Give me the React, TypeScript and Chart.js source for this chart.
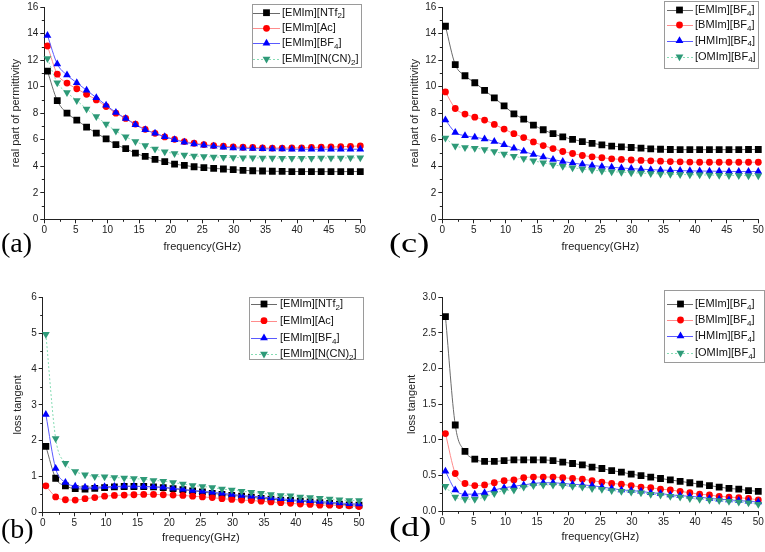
import React, { useEffect, useRef } from 'react';
import { Chart, registerables } from 'chart.js';
import { drawPoint } from 'chart.js/helpers';

Chart.register(...registerables);

const FONT = '"Liberation Sans", Arial, Helvetica, sans-serif';
Chart.defaults.font.family = FONT;

// ---------------- data ----------------
const freq = [0.5, 2.05, 3.59, 5.14, 6.69, 8.23, 9.78, 11.33, 12.88, 14.42, 15.97, 17.52, 19.06, 20.61, 22.16, 23.7, 25.25, 26.8, 28.34, 29.89, 31.44, 32.98, 34.53, 36.08, 37.63, 39.17, 40.72, 42.27, 43.81, 45.36, 46.91, 48.45, 50.0];

// (a) real part of permittivity, [EMIm] family
const permNTf2 = [11.17, 8.95, 8.0, 7.48, 6.95, 6.5, 6.06, 5.63, 5.33, 4.98, 4.74, 4.51, 4.34, 4.16, 4.06, 3.96, 3.89, 3.84, 3.79, 3.74, 3.69, 3.66, 3.64, 3.62, 3.61, 3.6, 3.6, 3.59, 3.59, 3.59, 3.59, 3.6, 3.6];
const permAc = [13.06, 10.94, 10.27, 9.84, 9.42, 9.0, 8.5, 8.0, 7.6, 7.18, 6.78, 6.48, 6.21, 6.03, 5.86, 5.73, 5.63, 5.56, 5.51, 5.46, 5.43, 5.41, 5.38, 5.37, 5.37, 5.38, 5.39, 5.41, 5.43, 5.45, 5.47, 5.5, 5.53];
const permBF4a = [13.86, 11.71, 10.87, 10.29, 9.72, 9.17, 8.6, 8.05, 7.6, 7.13, 6.75, 6.48, 6.23, 6.0, 5.81, 5.68, 5.58, 5.51, 5.43, 5.38, 5.36, 5.33, 5.31, 5.3, 5.29, 5.28, 5.28, 5.28, 5.28, 5.28, 5.28, 5.28, 5.28];
const permNCN = [12.11, 10.29, 9.55, 8.95, 8.32, 7.75, 7.18, 6.65, 6.23, 5.86, 5.56, 5.3, 5.1, 4.95, 4.85, 4.78, 4.73, 4.7, 4.68, 4.66, 4.64, 4.63, 4.62, 4.62, 4.61, 4.61, 4.61, 4.61, 4.62, 4.62, 4.62, 4.63, 4.63];

// (c) real part of permittivity, [BF4] family
const permEMIm = [14.55, 11.66, 10.82, 10.29, 9.72, 9.15, 8.55, 7.95, 7.55, 7.1, 6.75, 6.45, 6.21, 6.03, 5.86, 5.73, 5.61, 5.51, 5.46, 5.41, 5.36, 5.31, 5.28, 5.26, 5.25, 5.25, 5.25, 5.25, 5.25, 5.25, 5.25, 5.26, 5.26];
const permBMIm = [9.6, 8.35, 7.93, 7.7, 7.48, 7.15, 6.8, 6.45, 6.16, 5.83, 5.56, 5.33, 5.11, 4.96, 4.81, 4.71, 4.64, 4.56, 4.51, 4.47, 4.44, 4.41, 4.38, 4.35, 4.33, 4.31, 4.3, 4.3, 4.3, 4.3, 4.3, 4.3, 4.3];
const permHMIm = [7.48, 6.55, 6.3, 6.18, 6.06, 5.86, 5.61, 5.36, 5.13, 4.88, 4.69, 4.51, 4.36, 4.24, 4.14, 4.06, 3.98, 3.92, 3.87, 3.82, 3.78, 3.74, 3.71, 3.69, 3.67, 3.65, 3.64, 3.63, 3.62, 3.61, 3.6, 3.6, 3.6];
const permOMIm = [6.13, 5.53, 5.41, 5.36, 5.26, 5.11, 4.93, 4.76, 4.59, 4.41, 4.26, 4.11, 3.99, 3.89, 3.79, 3.71, 3.64, 3.59, 3.55, 3.51, 3.48, 3.45, 3.42, 3.4, 3.38, 3.36, 3.35, 3.33, 3.32, 3.31, 3.3, 3.29, 3.28];

// (b) loss tangent, [EMIm] family
const tanNTf2 = [1.84, 0.95, 0.74, 0.66, 0.65, 0.67, 0.69, 0.71, 0.72, 0.72, 0.72, 0.71, 0.69, 0.66, 0.63, 0.6, 0.57, 0.53, 0.5, 0.47, 0.45, 0.42, 0.39, 0.37, 0.34, 0.33, 0.31, 0.29, 0.27, 0.25, 0.23, 0.21, 0.2];
const tanAc = [0.74, 0.43, 0.35, 0.34, 0.38, 0.41, 0.45, 0.47, 0.48, 0.49, 0.5, 0.5, 0.49, 0.48, 0.47, 0.45, 0.43, 0.41, 0.38, 0.36, 0.34, 0.33, 0.31, 0.29, 0.27, 0.25, 0.23, 0.22, 0.2, 0.2, 0.19, 0.18, 0.16];
const tanBF4a = [2.73, 1.22, 0.83, 0.73, 0.7, 0.7, 0.71, 0.72, 0.73, 0.73, 0.72, 0.71, 0.7, 0.67, 0.64, 0.61, 0.59, 0.56, 0.53, 0.5, 0.47, 0.45, 0.43, 0.4, 0.38, 0.35, 0.33, 0.32, 0.3, 0.28, 0.26, 0.24, 0.23];
const tanNCN = [4.97, 2.06, 1.37, 1.14, 1.05, 1.0, 0.99, 0.97, 0.96, 0.94, 0.92, 0.89, 0.87, 0.83, 0.79, 0.75, 0.72, 0.69, 0.65, 0.62, 0.59, 0.56, 0.53, 0.5, 0.47, 0.46, 0.43, 0.41, 0.39, 0.37, 0.35, 0.33, 0.33];

// (d) loss tangent, [BF4] family
const tanEMIm = [2.73, 1.21, 0.84, 0.73, 0.7, 0.7, 0.71, 0.72, 0.72, 0.72, 0.72, 0.71, 0.69, 0.67, 0.65, 0.62, 0.6, 0.57, 0.55, 0.52, 0.5, 0.48, 0.46, 0.44, 0.42, 0.4, 0.38, 0.36, 0.34, 0.32, 0.31, 0.29, 0.28];
const tanBMIm = [1.09, 0.53, 0.39, 0.36, 0.37, 0.4, 0.43, 0.44, 0.47, 0.48, 0.48, 0.48, 0.47, 0.46, 0.45, 0.43, 0.41, 0.39, 0.38, 0.36, 0.34, 0.33, 0.31, 0.3, 0.28, 0.26, 0.24, 0.23, 0.21, 0.2, 0.19, 0.18, 0.16];
const tanHMIm = [0.56, 0.3, 0.24, 0.24, 0.26, 0.3, 0.33, 0.35, 0.37, 0.39, 0.4, 0.4, 0.39, 0.38, 0.37, 0.36, 0.34, 0.32, 0.3, 0.29, 0.28, 0.26, 0.25, 0.23, 0.22, 0.21, 0.2, 0.18, 0.17, 0.16, 0.15, 0.14, 0.13];
const tanOMIm = [0.35, 0.2, 0.17, 0.17, 0.2, 0.25, 0.29, 0.3, 0.34, 0.36, 0.37, 0.37, 0.36, 0.35, 0.34, 0.32, 0.31, 0.29, 0.28, 0.27, 0.26, 0.24, 0.23, 0.21, 0.2, 0.18, 0.17, 0.16, 0.15, 0.14, 0.13, 0.12, 0.1];

const labelsEMIm = ['[EMIm][NTf₂]', '[EMIm][Ac]', '[EMIm][BF₄]', '[EMIm][N(CN)₂]'];
const labelsBF4 = ['[EMIm][BF₄]', '[BMIm][BF₄]', '[HMIm][BF₄]', '[OMIm][BF₄]'];
const panelLetters = ['(a)', '(b)', '(c)', '(d)'];
const xTitle = 'frequency(GHz)';
const yTitlePerm = 'real part of permittivity';
const yTitleTan = 'loss tangent';

// ---------------- styles ----------------
const STYLES = [
  { color: '#000000', line: '#6a6a6a', style: 'rect', rotation: 0, radius: 4.8, dash: [] as number[] },
  { color: '#ff0000', line: '#ff8c8c', style: 'circle', rotation: 0, radius: 3.4, dash: [] as number[] },
  { color: '#0000ff', line: '#5a5aff', style: 'triangle', rotation: 0, radius: 4.5, dash: [] as number[] },
  { color: '#2e9a78', line: '#86dcb4', style: 'triangle', rotation: 180, radius: 4.5, dash: [2, 2] },
];

const AXIS = '#222222';
const TEXT = '#222222';

type PanelCfg = {
  letter: string;
  left: number; top: number; width: number; height: number;
  area: { l: number; r: number; t: number; b: number };
  yMax: number; yStep: number; yMinor: number; decimals: number;
  yTitle: string; yTitlePad: number; xTitlePad: number;
  legend: { box: number[]; rows: number[]; line: number[]; mark: number; text: number };
  labels: string[];
  series: number[][];
  letterPos: { x: number; y: number; sx: number };
};

const PANELS: PanelCfg[] = [
  {
    letter: panelLetters[0], left: 0, top: 0, width: 383, height: 262,
    area: { l: 44.3, r: 360.3, t: 5.3, b: 219.3 },
    yMax: 16, yStep: 2, yMinor: 1, decimals: 0,
    yTitle: yTitlePerm, yTitlePad: 9, xTitlePad: 8,
    legend: { box: [252, 4, 361, 67], rows: [12.7, 28.3, 43.3, 59], line: [253, 280], mark: 266.5, text: 282 },
    labels: labelsEMIm, series: [permNTf2, permAc, permBF4a, permNCN],
    letterPos: { x: 1, y: 228, sx: 1 },
  },
  {
    letter: panelLetters[1], left: 0, top: 280, width: 383, height: 272,
    area: { l: 42.7, r: 359, t: 17.3, b: 232.3 },
    yMax: 6, yStep: 1, yMinor: 0.5, decimals: 0,
    yTitle: yTitleTan, yTitlePad: 11, xTitlePad: 7,
    legend: { box: [249, 17, 363, 79], rows: [24, 40.7, 58, 74], line: [251, 277], mark: 264, text: 280 },
    labels: labelsEMIm, series: [tanNTf2, tanAc, tanBF4a, tanNCN],
    letterPos: { x: 1, y: 514, sx: 1 },
  },
  {
    letter: panelLetters[2], left: 383, top: 0, width: 382, height: 262,
    area: { l: 59.3, r: 375.3, t: 5.3, b: 219.3 },
    yMax: 16, yStep: 2, yMinor: 1, decimals: 0,
    yTitle: yTitlePerm, yTitlePad: 25, xTitlePad: 8,
    legend: { box: [281, 1, 375, 68], rows: [10, 25, 40.7, 56.7], line: [284, 310], mark: 296.5, text: 312 },
    labels: labelsBF4, series: [permEMIm, permBMIm, permHMIm, permOMIm],
    letterPos: { x: 389, y: 228, sx: 1.3 },
  },
  {
    letter: panelLetters[3], left: 383, top: 280, width: 382, height: 272,
    area: { l: 59.3, r: 375.3, t: 17.3, b: 231.3 },
    yMax: 3, yStep: 0.5, yMinor: 0.25, decimals: 1,
    yTitle: yTitleTan, yTitlePad: 22, xTitlePad: 8,
    legend: { box: [281, 10, 381, 82], rows: [24, 40, 56, 73], line: [284, 310], mark: 297.5, text: 312 },
    labels: labelsBF4, series: [tanEMIm, tanBMIm, tanHMIm, tanOMIm],
    letterPos: { x: 389, y: 512, sx: 1.3 },
  },
];

const SUB: Record<string, string> = { '₂': '2', '₄': '4' };

function drawRichLabel(ctx: CanvasRenderingContext2D, text: string, x: number, y: number) {
  let cx = x;
  for (const ch of Array.from(text)) {
    if (SUB[ch]) {
      ctx.font = `8px ${FONT}`;
      ctx.fillText(SUB[ch], cx, y + 3.5);
      cx += ctx.measureText(SUB[ch]).width;
    } else {
      ctx.font = `11px ${FONT}`;
      ctx.fillText(ch, cx, y);
      cx += ctx.measureText(ch).width;
    }
  }
}

function Panel({ p }: { p: PanelCfg }) {
  const ref = useRef<HTMLCanvasElement>(null);

  useEffect(() => {
    const canvas = ref.current!;
    const deco = {
      id: 'deco' + p.letter,
      afterDraw(chart: any) {
        const ctx: CanvasRenderingContext2D = chart.ctx;
        const xs = chart.scales.x;
        const ys = chart.scales.y;
        const ca = chart.chartArea;
        ctx.save();
        // minor ticks
        ctx.strokeStyle = AXIS;
        ctx.lineWidth = 1;
        ctx.beginPath();
        for (let v = 2.5; v < 50; v += 5) {
          const px = Math.round(xs.getPixelForValue(v)) + 0.5;
          ctx.moveTo(px, ca.bottom);
          ctx.lineTo(px, ca.bottom + 2.5);
        }
        for (let v = p.yMinor; v < p.yMax; v += p.yStep) {
          const py = Math.round(ys.getPixelForValue(v)) + 0.5;
          ctx.moveTo(ca.left - 2.5, py);
          ctx.lineTo(ca.left, py);
        }
        ctx.stroke();

        // legend
        const L = p.legend;
        ctx.fillStyle = '#ffffff';
        ctx.fillRect(L.box[0], L.box[1], L.box[2] - L.box[0], L.box[3] - L.box[1]);
        ctx.strokeStyle = '#9a9a9a';
        ctx.lineWidth = 1;
        ctx.strokeRect(L.box[0] + 0.5, L.box[1] + 0.5, L.box[2] - L.box[0], L.box[3] - L.box[1]);
        p.labels.forEach((lab, i) => {
          const st = STYLES[i];
          const ry = L.rows[i];
          ctx.strokeStyle = st.line;
          ctx.lineWidth = 1;
          ctx.setLineDash(st.dash);
          ctx.beginPath();
          ctx.moveTo(L.line[0], Math.round(ry) + 0.5);
          ctx.lineTo(L.line[1], Math.round(ry) + 0.5);
          ctx.stroke();
          ctx.setLineDash([]);
          ctx.fillStyle = st.color;
          ctx.strokeStyle = st.color;
          drawPoint(ctx, { pointStyle: st.style as any, rotation: st.rotation, radius: st.radius, borderWidth: 0 } as any, L.mark, ry);
          ctx.fillStyle = '#111111';
          ctx.textBaseline = 'middle';
          ctx.textAlign = 'left';
          drawRichLabel(ctx, lab, L.text, ry);
        });
        ctx.restore();
      },
    };

    const chart = new Chart(canvas, {
      type: 'line',
      data: {
        datasets: p.series.map((vals, i) => {
          const st = STYLES[i];
          return {
            label: p.labels[i],
            data: freq.map((f, j) => ({ x: f, y: vals[j] })),
            borderColor: st.line,
            borderWidth: 1,
            borderDash: st.dash,
            backgroundColor: st.color,
            pointBackgroundColor: st.color,
            pointBorderColor: st.color,
            pointBorderWidth: 0,
            pointStyle: st.style as any,
            pointRotation: st.rotation,
            pointRadius: st.radius,
            pointHoverRadius: st.radius,
            cubicInterpolationMode: 'monotone' as const,
            fill: false,
            order: p.series.length - i,
            clip: 10,
          };
        }),
      },
      options: {
        responsive: false,
        animation: false,
        devicePixelRatio: 1,
        events: [],
        layout: { padding: { left: 0, top: p.area.t, right: p.width - p.area.r, bottom: 0 } },
        plugins: { legend: { display: false }, tooltip: { enabled: false } },
        scales: {
          x: {
            type: 'linear',
            min: 0,
            max: 50,
            ticks: { stepSize: 5, color: TEXT, font: { size: 10, family: FONT }, padding: 1, maxRotation: 0, autoSkip: false },
            grid: { display: true, drawOnChartArea: false, drawTicks: true, tickLength: 4, color: AXIS },
            border: { display: true, color: AXIS, width: 1 },
            title: { display: true, text: xTitle, color: TEXT, font: { size: 11, family: FONT }, padding: { top: 0, bottom: p.xTitlePad } },
            afterFit: (s: any) => { s.height = p.height - p.area.b; },
          },
          y: {
            type: 'linear',
            min: 0,
            max: p.yMax,
            ticks: {
              stepSize: p.yStep,
              color: TEXT,
              font: { size: 10, family: FONT, lineHeight: 1 },
              padding: 2,
              callback: (v: any) => Number(v).toFixed(p.decimals),
            },
            grid: { display: true, drawOnChartArea: false, drawTicks: true, tickLength: 4, color: AXIS },
            border: { display: true, color: AXIS, width: 1 },
            title: { display: true, text: p.yTitle, color: TEXT, font: { size: 11, family: FONT }, padding: { top: p.yTitlePad, bottom: 0 } },
            afterFit: (s: any) => { s.width = p.area.l; },
          },
        },
      },
      plugins: [deco],
    } as any);
    return () => chart.destroy();
  }, []);

  return (
    <canvas
      ref={ref}
      width={p.width}
      height={p.height}
      style={{ position: 'absolute', left: p.left, top: p.top, width: p.width, height: p.height }}
    />
  );
}

export default function App() {
  return (
    <div style={{ position: 'fixed', left: 0, top: 0, width: 765, height: 552, background: '#ffffff', overflow: 'hidden' }}>
      {PANELS.map((p) => (
        <Panel key={p.letter} p={p} />
      ))}
      {PANELS.map((p) => (
        <div
          key={'l' + p.letter}
          style={{
            position: 'absolute',
            left: p.letterPos.x,
            top: p.letterPos.y,
            fontFamily: '"Liberation Serif", "Times New Roman", serif',
            fontSize: 28,
            lineHeight: '30px',
            color: '#000',
            transform: `scaleX(${p.letterPos.sx})`,
            transformOrigin: 'left top',
            whiteSpace: 'nowrap',
          }}
        >
          {p.letter}
        </div>
      ))}
    </div>
  );
}
